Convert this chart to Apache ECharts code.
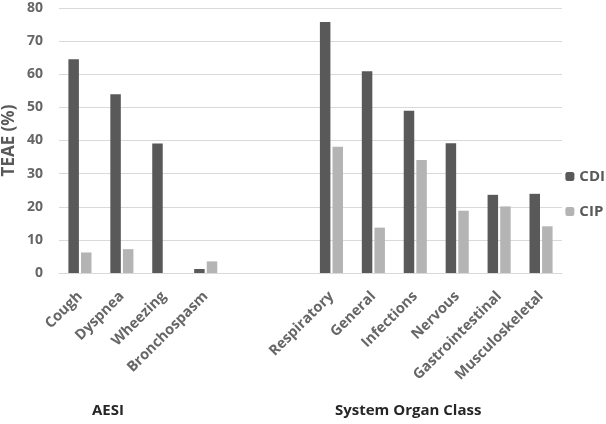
<!DOCTYPE html>
<html>
<head>
<meta charset="utf-8">
<script src="https://cdn.jsdelivr.net/npm/echarts@6/dist/echarts.min.js"></script>
<style>html,body{margin:0;padding:0;background:#fff}#c{width:606px;height:424px}</style>
</head>
<body>
<div id="c"></div>
<script>
const categories = ['Cough','Dyspnea','Wheezing','Bronchospasm','','','Respiratory','General','Infections','Nervous','Gastrointestinal','Musculoskeletal'];
const cdiValues = [64.5, 54.0, 39.1, 1.2, null, null, 75.8, 60.9, 49.0, 39.2, 23.6, 23.9];
const cipValues = [6.2, 7.2, 0, 3.5, null, null, 38.1, 13.7, 34.1, 18.8, 20.1, 14.1];
const yTicks = [0, 10, 20, 30, 40, 50, 60, 70, 80];
const groupLabels = ['AESI', 'System Organ Class'];

const font = 'Open Sans, Liberation Sans, sans-serif';
const chart = echarts.init(document.getElementById('c'));
chart.setOption({
  animation: false,
  textStyle: {fontFamily: font},
  grid: {left: 59, right: 44, top: 8, bottom: 151, containLabel: false, outerBoundsMode: 'none'},
  legend: {
    orient: 'vertical', right: -4, top: 164, itemWidth: 9, itemHeight: 9, itemGap: 20,
    textStyle: {color: '#595959', fontSize: 15, fontWeight: 'bold', fontFamily: font},
    data: ['CDI', 'CIP']
  },
  xAxis: {
    type: 'category', data: categories,
    axisLine: {show: true, lineStyle: {color: '#d9d9d9'}},
    axisTick: {show: false},
    axisLabel: {interval: 0, rotate: 45, color: '#666', fontSize: 14.5, fontWeight: 'bold', margin: 21, fontFamily: font}
  },
  yAxis: {
    type: 'value', min: yTicks[0], max: yTicks[yTicks.length - 1], interval: 10,
    name: 'TEAE (%)', nameLocation: 'middle', nameGap: 41, nameMoveOverlap: false,
    nameTextStyle: {color: '#595959', fontSize: 17, fontWeight: 'bold', fontFamily: font},
    axisLine: {show: false}, axisTick: {show: false},
    axisLabel: {color: '#666', fontSize: 14, fontWeight: 'bold', margin: 16, fontFamily: font},
    splitLine: {lineStyle: {color: '#d9d9d9'}}
  },
  series: [
    {name: 'CDI', type: 'bar', data: cdiValues, barWidth: 10.5, barGap: '20%', itemStyle: {color: '#595959'}},
    {name: 'CIP', type: 'bar', data: cipValues, barWidth: 10.5, barGap: '20%', itemStyle: {color: '#b4b4b4'}}
  ],
  graphic: [
    {type: 'text', left: 92, top: 403, style: {text: groupLabels[0], fill: '#262626', font: 'bold 15px ' + font}},
    {type: 'text', left: 335, top: 403, style: {text: groupLabels[1], fill: '#262626', font: 'bold 15px ' + font}}
  ]
});
</script>
</body>
</html>
